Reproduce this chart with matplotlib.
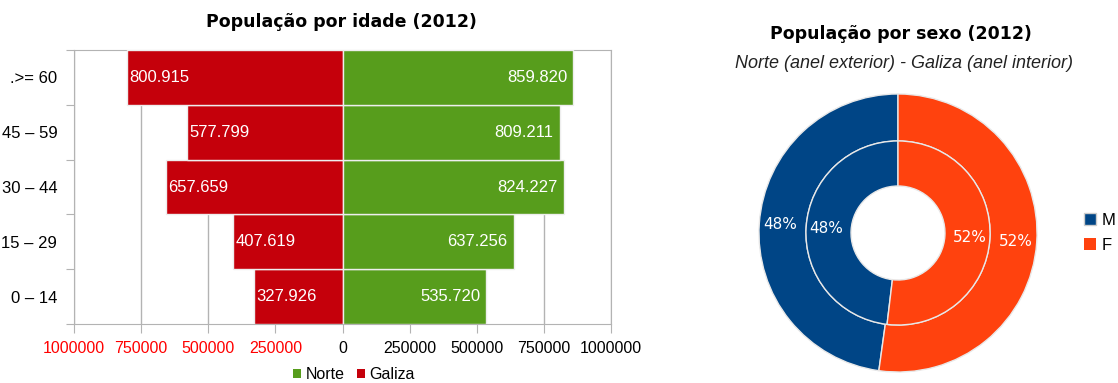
import matplotlib
matplotlib.use("Agg")
import matplotlib.pyplot as plt
from matplotlib.patches import Patch
import numpy as np

# data
ages = ['0 – 14', '15 – 29', '30 – 44', '45 – 59', '.>= 60']
norte = [535720, 637256, 824227, 809211, 859820]
galiza = [327926, 407619, 657659, 577799, 800915]
xticks = [-1000000, -750000, -500000, -250000, 0, 250000, 500000, 750000, 1000000]

sexes = ['M', 'F']
norte_sexo = [47.8, 52.2]
galiza_sexo = [48.1, 51.9]

GREEN = '#579d1c'
RED = '#c5000b'
BLUE = '#004586'
ORANGE = '#ff420e'
GRID = '#b3b3b3'

plt.rcParams['font.family'] = ['Liberation Sans', 'DejaVu Sans']

fig = plt.figure(figsize=(11.18, 3.83), dpi=100)

# ---- pyramid ----
ax = fig.add_axes([74/1118, 59/383, 537/1118, 274/383])
y = np.arange(len(ages))
ax.barh(y, [-g for g in galiza], height=1.0, color=RED, edgecolor='#eeeeee', linewidth=1, zorder=3)
ax.barh(y, norte, height=1.0, color=GREEN, edgecolor='#eeeeee', linewidth=1, zorder=3)
for i in range(len(ages)):
    ax.annotate(f"{galiza[i]:,}".replace(',', '.'), (-galiza[i], y[i]), xytext=(1.5, 0),
                textcoords='offset points', ha='left', va='center', color='white', fontsize=12, zorder=4)
    ax.annotate(f"{norte[i]:,}".replace(',', '.'), (norte[i], y[i]), xytext=(-4.5, 0),
                textcoords='offset points', ha='right', va='center', color='white', fontsize=12, zorder=4)

ax.set_xlim(-1000000, 1000000)
ax.set_ylim(-0.5, len(ages) - 0.5)
ax.set_xticks(xticks)
ax.set_xticklabels([str(abs(t)) for t in xticks], fontsize=11.5)
for lbl, t in zip(ax.get_xticklabels(), xticks):
    lbl.set_color('#ff0000' if t < 0 else 'black')
ax.set_yticks(np.arange(len(ages) + 1) - 0.5)
ax.set_yticklabels([])
ax.set_yticks(y, minor=True)
ax.set_yticklabels(ages, minor=True, fontsize=12)
ax.tick_params(axis='y', which='major', length=6, color=GRID, direction='out')
ax.tick_params(axis='y', which='minor', length=0, pad=12)
ax.tick_params(axis='x', length=6.5, color=GRID, pad=6)
ax.grid(axis='x', color=GRID, linewidth=1, zorder=0)
for s in ax.spines.values():
    s.set_color(GRID)
ax.set_axisbelow(True)

fig.text(341/1118, 1 - 22/383, 'População por idade (2012)', ha='center', va='center',
         fontsize=12.5, fontweight='bold', family='DejaVu Sans')

handles = [Patch(facecolor=GREEN), Patch(facecolor=RED)]
fig.legend(handles, ['Norte', 'Galiza'], loc='center', bbox_to_anchor=(354/1118, 1 - 374.5/383),
           ncol=2, frameon=False, fontsize=11.5, handletextpad=0.25, columnspacing=0.8,
           handlelength=0.5, handleheight=0.5, borderpad=0, borderaxespad=0)

# ---- donut ----
ax2 = fig.add_axes([753/1118, 5/383, 290/1118, 290/383])
wp = dict(edgecolor='#e8e8e8', linewidth=1)
ax2.pie(norte_sexo, radius=1.0, colors=[BLUE, ORANGE], startangle=90, counterclock=True,
        wedgeprops=dict(width=0.338, **wp), autopct='%.0f%%', pctdistance=0.85,
        textprops=dict(color='white', fontsize=11, family='DejaVu Sans'))
ax2.pie(galiza_sexo, radius=0.662, colors=[BLUE, ORANGE], startangle=90, counterclock=True,
        wedgeprops=dict(width=0.324, **wp), autopct='%.0f%%', pctdistance=0.785,
        textprops=dict(color='white', fontsize=11, family='DejaVu Sans'))
ax2.set_xlim(-1.043, 1.043)
ax2.set_ylim(-1.043, 1.043)
ax2.set_aspect('equal')
ax2.axis('off')

fig.text(901/1118, 1 - 34/383, 'População por sexo (2012)', ha='center', va='center',
         fontsize=12.5, fontweight='bold', family='DejaVu Sans')
fig.text(904/1118, 1 - 63/383, 'Norte (anel exterior) - Galiza (anel interior)', ha='center',
         va='center', fontsize=13, style='italic', color='#222222')

h2 = [Patch(facecolor=BLUE, edgecolor='#cccccc'), Patch(facecolor=ORANGE)]
fig.legend(h2, sexes, loc='center left', bbox_to_anchor=(1084/1118, 1 - 233/383), frameon=False,
           fontsize=12, handlelength=0.7, handleheight=0.7, handletextpad=0.35, labelspacing=0.6,
           borderpad=0, borderaxespad=0)

fig.savefig('out.png', dpi=100)
